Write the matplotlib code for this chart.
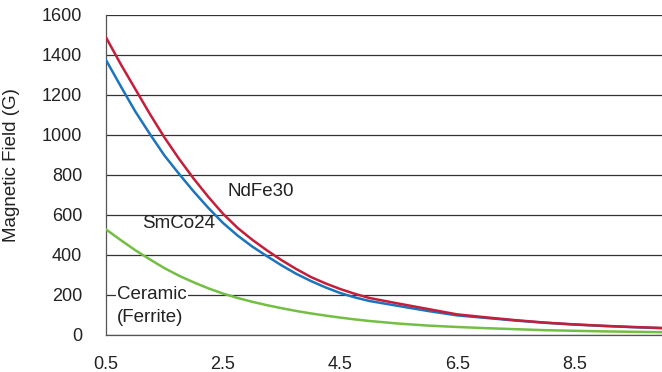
import numpy as np
import matplotlib
matplotlib.use("Agg")
import matplotlib.pyplot as plt

plt.rcParams['font.family'] = ['Liberation Sans', 'DejaVu Sans']

# distance
x = np.array([0.5, 0.75, 1.0, 1.25, 1.5, 1.75, 2.0, 2.25, 2.5, 2.75,
              3.0, 3.25, 3.5, 3.75, 4.0, 4.25, 4.5, 4.75, 5.0,
              5.5, 6.0, 6.5, 7.0, 7.5, 8.0, 8.5, 9.0, 9.5, 10.0])

# NdFe30
ndfe30 = np.array([1488, 1355, 1230, 1105, 987, 880, 781, 690, 606, 535,
                   476, 423, 374, 330, 290, 258, 230, 206, 185,
                   157, 130, 103, 88, 74, 62, 53, 46, 40, 35])
# SmCo24
smco24 = np.array([1375, 1245, 1118, 1005, 897, 805, 717, 635, 560, 497,
                   442, 394, 348, 306, 270, 238, 210, 188, 170,
                   145, 120, 98, 85, 72, 61, 52, 45, 39, 34])
# Ceramic (Ferrite)
ceramic = np.array([528, 475, 424, 378, 334, 296, 263, 233, 207, 185,
                    166, 149, 134, 120, 108, 97, 87, 78, 70,
                    57, 47, 40, 34, 29, 24, 21, 18, 16, 14])

xticks = [0.5, 2.5, 4.5, 6.5, 8.5]
yticks = [0, 200, 400, 600, 800, 1000, 1200, 1400, 1600]

fig = plt.figure(figsize=(6.62, 3.72), dpi=100)
ax = fig.add_axes([0.160, 0.0995, 0.840, 0.8605])

ax.plot(x, ceramic, color='#72bf44', lw=1.8, zorder=3)
ax.plot(x, smco24, color='#1b75bc', lw=1.8, zorder=3)
ax.plot(x, ndfe30, color='#c41e3a', lw=1.8, zorder=4)

ax.set_xlim(0.5, 10)
ax.set_ylim(0, 1600)
ax.set_xticks(xticks)
ax.set_xticklabels([str(t) for t in xticks])
ax.set_yticks(yticks)
ax.tick_params(axis='both', length=0, labelsize=13, colors='#222222')
ax.tick_params(axis='y', pad=17)
ax.tick_params(axis='x', pad=15)

ax.yaxis.grid(True, color='#333333', lw=0.9)
ax.set_axisbelow(True)
for s in ['top', 'right']:
    ax.spines[s].set_visible(False)
ax.spines['left'].set_color('#555555')
ax.spines['bottom'].set_color('#555555')
ax.spines['left'].set_linewidth(0.9)
ax.spines['bottom'].set_linewidth(0.9)

ax.set_ylabel('Magnetic Field (G)', fontsize=13.5, color='#222222')
ax.yaxis.set_label_coords(-0.155, 0.53)

ax.text(2.58, 715, 'NdFe30', fontsize=13.5, va='center', ha='left', color='#222222')
ax.text(1.11, 555, 'SmCo24', fontsize=13.5, va='center', ha='left', color='#222222')
ax.text(0.69, 200, 'Ceramic', fontsize=13.5, va='center', ha='left', color='#222222',
        bbox=dict(facecolor='white', edgecolor='none', pad=1))
ax.text(0.69, 88, '(Ferrite)', fontsize=13.5, va='center', ha='left', color='#222222')

fig.savefig('out.png', dpi=100)
